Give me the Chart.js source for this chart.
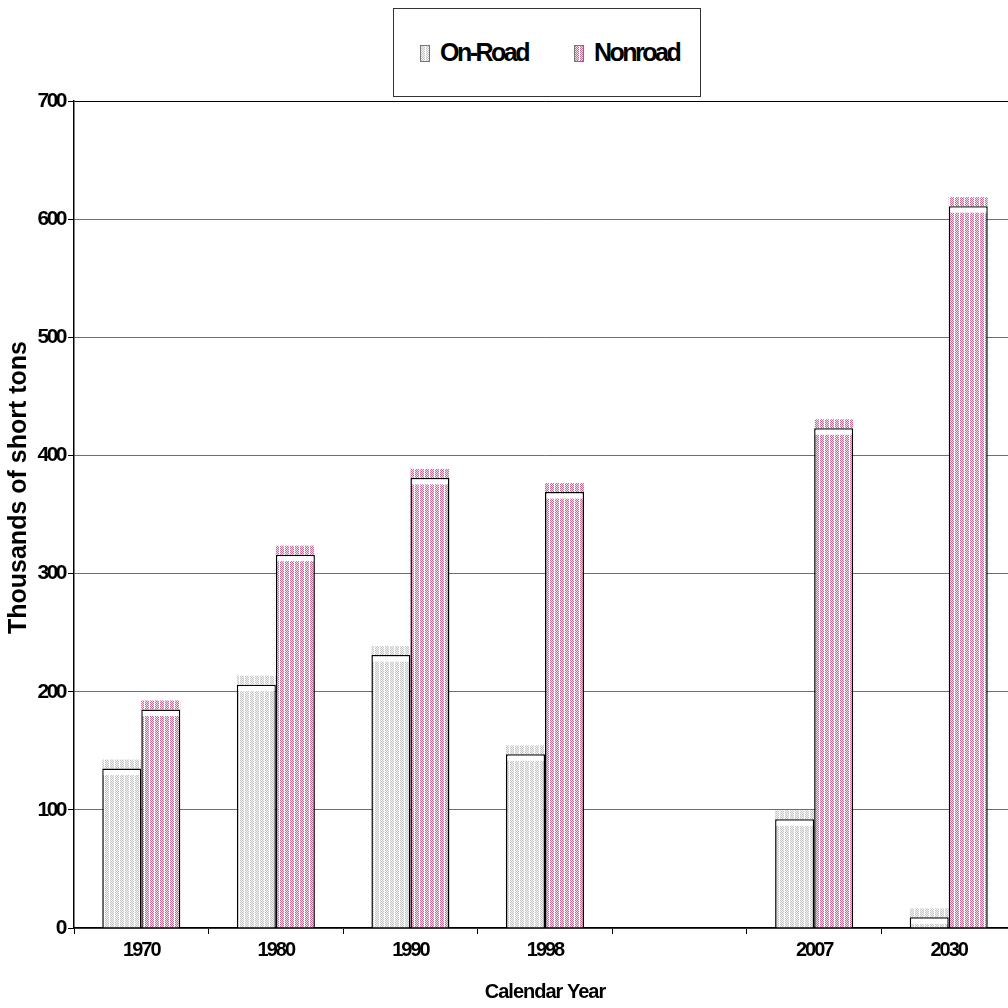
<!DOCTYPE html>
<html>
<head>
<meta charset="utf-8">
<script src="https://cdn.jsdelivr.net/npm/chart.js@4/dist/chart.umd.min.js"></script>
<style>
  html, body { margin: 0; padding: 0; background: #fff; overflow: hidden; width: 1008px; height: 1008px; }
  #wrap { position: absolute; left: 0; top: 0; width: 1030px; height: 1008px; }
  #legend { position: absolute; left: 393px; top: 8px; width: 308px; height: 89px; border: 1px solid #333; box-sizing: border-box; background: #fff;
    font-family: "Liberation Sans", Arial, sans-serif; font-weight: bold; font-size: 25px; letter-spacing: -2.5px; color: #000; }
  .item { position: absolute; top: 29px; line-height: 28px; white-space: nowrap; }
  .sw { display: inline-block; width: 8px; height: 15px; border: 1px solid #777; vertical-align: -1px; margin-right: 10px; }
</style>
</head>
<body>
<div id="wrap"><canvas id="c"></canvas></div>
<div id="legend">
  <div class="item" style="left:26px"><span class="sw" id="sw0"></span>On-Road</div>
  <div class="item" style="left:180px"><span class="sw" id="sw1"></span>Nonroad</div>
</div>
<script>
const categories = ["1970", "1980", "1990", "1998", "", "2007", "2030"];
const onRoad = [135, 206, 231, 147, null, 92, 9];
const nonroad = [185, 316, 381, 369, null, 423, 611];
const seriesNames = ["On-Road", "Nonroad"];
const yTicks = [0, 100, 200, 300, 400, 500, 600, 700];

function makePattern(dark, light) {
  const c = document.createElement('canvas');
  c.width = 5; c.height = 2;
  const g = c.getContext('2d');
  g.fillStyle = '#ffffff'; g.fillRect(0, 0, 5, 2);
  for (let x = 0; x < 4; x++) {
    for (let y = 0; y < 2; y++) {
      g.fillStyle = ((x + y) % 2 === 0) ? dark : light;
      g.fillRect(x, y, 1, 1);
    }
  }
  return c;
}
const ctx = document.getElementById('c').getContext('2d');
const grayTile = makePattern('#c6c6c6', '#f2f2f2');
const pinkTile = makePattern('#c86c9a', '#f2dce7');
const grayPat = ctx.createPattern(grayTile, 'repeat');
const pinkPat = ctx.createPattern(pinkTile, 'repeat');
document.getElementById('sw0').style.backgroundImage = 'url(' + grayTile.toDataURL() + ')';
document.getElementById('sw1').style.backgroundImage = 'url(' + pinkTile.toDataURL() + ')';

function withSpacing(scale, method, spacing, dy) {
  const orig = scale[method];
  scale[method] = function () {
    const c = this.ctx;
    const prev = c.letterSpacing;
    c.save();
    c.letterSpacing = spacing;
    if (dy) c.translate(0, dy);
    try { return orig.apply(this, arguments); } finally { c.restore(); c.letterSpacing = prev; }
  };
}

const shadowPlugin = {
  id: 'shadowTop',
  afterLayout(chart) {
    const sx = chart.scales.x, sy = chart.scales.y;
    if (!sx._spaced) {
      withSpacing(sx, 'drawLabels', '-2px', 0);
      withSpacing(sx, 'drawTitle', '-1px', 0);
      sx._spaced = true;
    }
    if (!sy._spaced) {
      withSpacing(sy, 'drawLabels', '-2.5px', 0);
      withSpacing(sy, 'drawTitle', '0px', -27);
      sy._spaced = true;
    }
  },
  beforeDatasetsDraw(chart) {
    const g = chart.ctx;
    chart.data.datasets.forEach((ds, i) => {
      const meta = chart.getDatasetMeta(i);
      meta.data.forEach((bar, j) => {
        if (ds.data[j] == null) return;
        const w = bar.width;
        g.save();
        g.fillStyle = ds.backgroundColor;
        g.fillRect(bar.x - w / 2, bar.y - 9, w, 9);
        g.restore();
      });
    });
  },
  afterDatasetsDraw(chart) {
    const g = chart.ctx;
    chart.data.datasets.forEach((ds, i) => {
      const meta = chart.getDatasetMeta(i);
      meta.data.forEach((bar, j) => {
        if (ds.data[j] == null) return;
        const w = bar.width;
        const h = Math.min(5, bar.base - bar.y - 3);
        if (h <= 0) return;
        g.save();
        g.fillStyle = '#ffffff';
        g.fillRect(bar.x - w / 2 + 1.5, bar.y + 1.5, w - 3, h);
        g.restore();
      });
    });
  }
};

new Chart(ctx, {
  type: 'bar',
  data: {
    labels: categories,
    datasets: [
      { label: seriesNames[0], data: onRoad, backgroundColor: grayPat, borderColor: '#000', borderWidth: 1.5, borderSkipped: 'bottom' },
      { label: seriesNames[1], data: nonroad, backgroundColor: pinkPat, borderColor: '#000', borderWidth: 1.5, borderSkipped: 'bottom' }
    ]
  },
  options: {
    responsive: true,
    maintainAspectRatio: false,
    animation: false,
    layout: { padding: { top: 101, left: 0, right: 14, bottom: 0 } },
    plugins: { legend: { display: false }, tooltip: { enabled: false } },
    datasets: { bar: { categoryPercentage: 0.58, barPercentage: 1.0 } },
    scales: {
      x: {
        grid: { offset: true, drawOnChartArea: false, color: '#000', tickLength: 6, lineWidth: 1 },
        border: { color: '#000', width: 1.5 },
        ticks: { color: '#000', font: { family: 'Liberation Sans', weight: 'bold', size: 20 }, padding: 4, maxRotation: 0 },
        title: { display: true, text: 'Calendar Year', color: '#000', font: { family: 'Liberation Sans', weight: 'bold', size: 20 }, padding: { top: 0, bottom: 4 } },
        afterFit(scale) { scale.height = 80; }
      },
      y: {
        min: 0, max: 700,
        afterBuildTicks(scale) { scale.ticks = yTicks.map(v => ({ value: v })); },
        grid: { color: (c) => c.tick && c.tick.value === 700 ? '#000' : '#6e6e6e', tickColor: '#000', tickLength: 6, lineWidth: 1 },
        border: { color: '#000', width: 1.5 },
        ticks: { color: '#000', font: { family: 'Liberation Sans', weight: 'bold', size: 21 }, padding: 3 },
        title: { display: true, text: 'Thousands of short tons', color: '#000', font: { family: 'Liberation Sans', weight: 'bold', size: 25 }, padding: { top: 4, bottom: 0 } },
        afterFit(scale) { scale.width = 74; }
      }
    }
  },
  plugins: [shadowPlugin]
});
</script>
</body>
</html>
